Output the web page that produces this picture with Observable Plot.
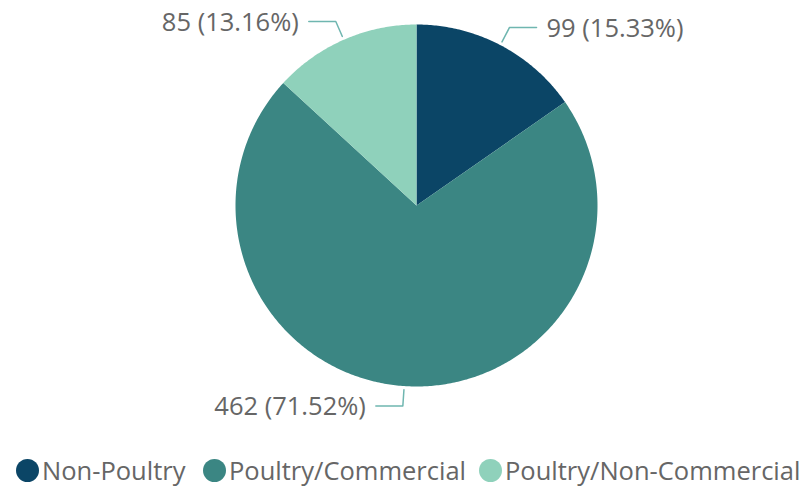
<!DOCTYPE html>
<html>
<head>
<meta charset="utf-8">
<script src="https://cdn.jsdelivr.net/npm/d3@7"></script>
<script src="https://cdn.jsdelivr.net/npm/@observablehq/plot@0.6"></script>
<style>
  html, body { margin: 0; padding: 0; background: #fff; }
  body { width: 810px; height: 489px; overflow: hidden; font-family: "Open Sans", "Noto Sans", sans-serif; }
  #legend { height: 49px; position: relative; font-size: 25.5px; color: #666; }
  .item { position: absolute; top: 15px; height: 30px; line-height: 30px; display: flex; align-items: center; white-space: nowrap; }
  .dot { width: 23px; height: 23px; border-radius: 50%; display: inline-block; margin-right: 3px; }
</style>
</head>
<body>
<div id="chart"></div>
<div id="legend"></div>
<script>
const categories = ["Non-Poultry", "Poultry/Commercial", "Poultry/Non-Commercial"];
const values = [99, 462, 85];
const percents = ["15.33%", "71.52%", "13.16%"];
const colors = ["#0B4566", "#3B8683", "#8FD1BB"];

const W = 810, H = 440, R = 181, CX = 416, CY = 205;

const pie = d3.pie().sort(null).value(d => d.value)(
  categories.map((c, i) => ({category: c, value: values[i], label: `${values[i]} (${percents[i]})`}))
);

// slice polygons in unit-radius data space (angle 0 = 12 o'clock, clockwise)
const polys = [];
pie.forEach(p => {
  const n = Math.max(4, Math.ceil((p.endAngle - p.startAngle) / 0.01));
  polys.push({category: p.data.category, x: 0, y: 0, k: 0});
  for (let j = 0; j <= n; j++) {
    const a = p.startAngle + (p.endAngle - p.startAngle) * j / n;
    polys.push({category: p.data.category, x: Math.sin(a), y: Math.cos(a), k: j + 1});
  }
  polys.push({category: p.data.category, x: 0, y: 0, k: n + 2});
});

const hLen = 27 / R;
const leaders = [];
const labels = [];
pie.forEach(p => {
  const a = (p.startAngle + p.endAngle) / 2;
  const s = Math.sin(a) >= 0 ? 1 : -1;
  const x0 = Math.sin(a) * 1.02, y0 = Math.cos(a) * 1.02;
  const x1 = Math.sin(a) * 1.11, y1 = Math.cos(a) * 1.11;
  const x2 = x1 + s * hLen;
  leaders.push({category: p.data.category, x: x0, y: y0});
  leaders.push({category: p.data.category, x: x1, y: y1});
  leaders.push({category: p.data.category, x: x2, y: y1});
  labels.push({x: x2, y: y1, label: p.data.label, side: s});
});

const chart = Plot.plot({
  width: W,
  height: H,
  margin: 0,
  x: {domain: [-CX / R, (W - CX) / R], axis: null},
  y: {domain: [-(H - CY) / R, CY / R], axis: null},
  color: {domain: categories, range: colors},
  style: {fontFamily: "'Open Sans', 'Noto Sans', sans-serif", background: "white"},
  marks: [
    Plot.line(polys, {x: "x", y: "y", z: "category", fill: "category", stroke: "none", curve: "linear"}),
    Plot.line(leaders, {x: "x", y: "y", z: "category", stroke: "#6FB6B0", strokeWidth: 1.5}),
    Plot.text(labels.filter(d => d.side > 0), {x: "x", y: "y", text: "label", textAnchor: "start", dx: 10, dy: 1, fontSize: 25.5, fill: "#666"}),
    Plot.text(labels.filter(d => d.side < 0), {x: "x", y: "y", text: "label", textAnchor: "end", dx: -10, dy: 1, fontSize: 25.5, fill: "#666"})
  ]
});
document.getElementById("chart").appendChild(chart);

const legend = document.getElementById("legend");
const lefts = [16, 203, 479];
categories.forEach((c, i) => {
  const it = document.createElement("div");
  it.className = "item";
  it.style.left = lefts[i] + "px";
  const dot = document.createElement("span");
  dot.className = "dot";
  dot.style.background = colors[i];
  const t = document.createElement("span");
  t.textContent = c;
  it.appendChild(dot);
  it.appendChild(t);
  legend.appendChild(it);
});
</script>
</body>
</html>
